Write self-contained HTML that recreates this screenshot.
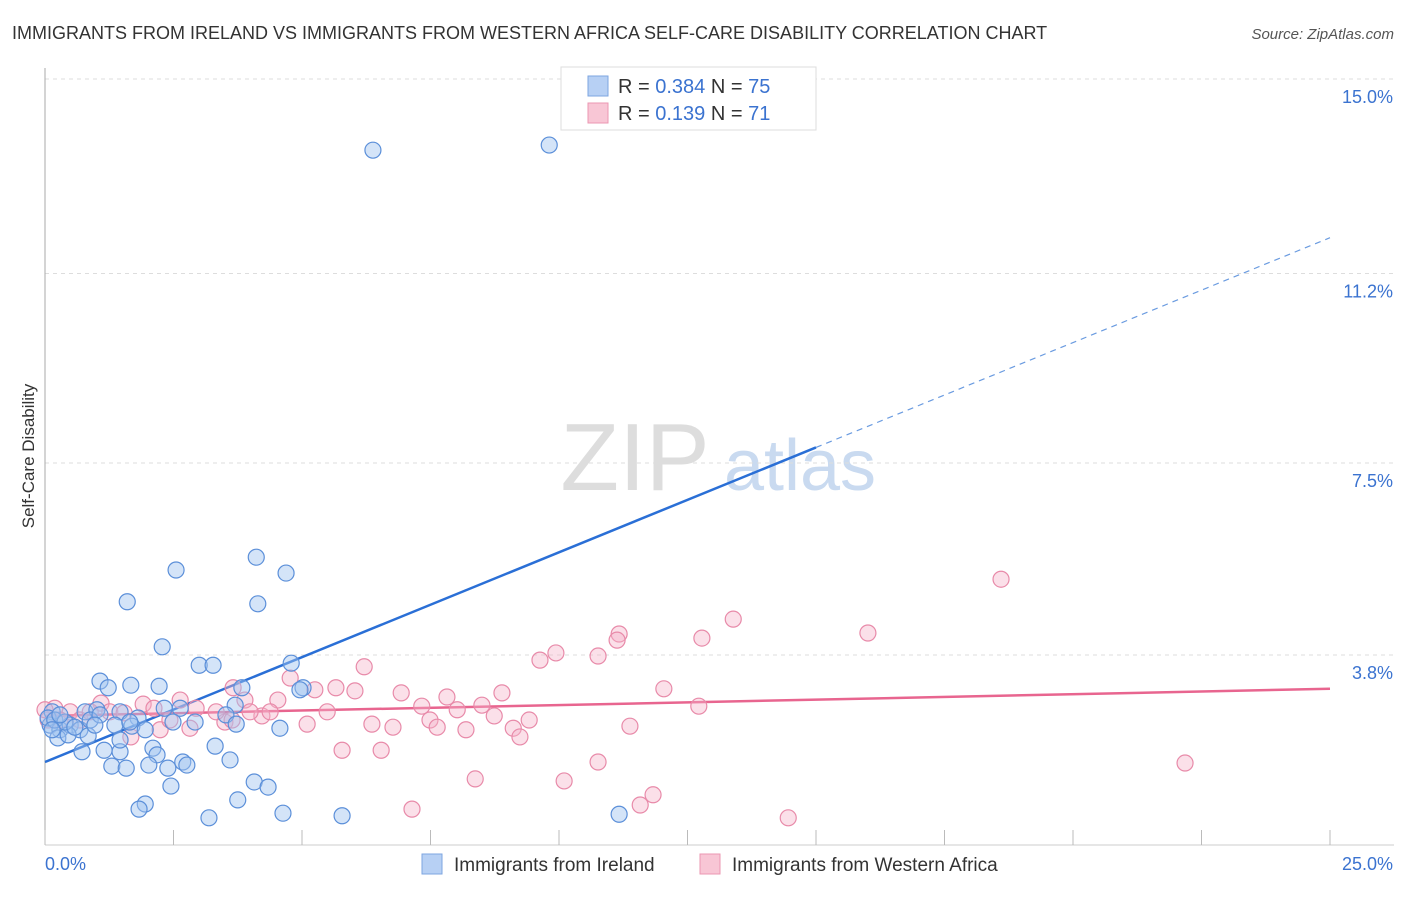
<!DOCTYPE html>
<html><head><meta charset="utf-8"><style>
body{margin:0;background:#fff;font-family:"Liberation Sans",sans-serif}
svg text{font-family:"Liberation Sans",sans-serif}
</style></head><body>
<svg id="chart" width="1406" height="892">
<text x="12" y="39" font-size="18" fill="#333">IMMIGRANTS FROM IRELAND VS IMMIGRANTS FROM WESTERN AFRICA SELF-CARE DISABILITY CORRELATION CHART</text>
<text x="1394" y="39" font-size="15" fill="#555" font-style="italic" text-anchor="end">Source: ZipAtlas.com</text>
<text transform="translate(34,456) rotate(-90)" font-size="17" fill="#333" text-anchor="middle">Self-Care Disability</text>
<g>
<text x="635" y="490" font-size="96" font-family="Liberation Serif" fill="#ddd" text-anchor="middle">ZIP</text>
<text x="800" y="490" font-size="72" fill="#c9daf0" text-anchor="middle">atlas</text>
</g>
<g id="grid"></g><g id="axes"></g><g id="lines"></g><g id="pts"></g>
<g>
<rect x="561" y="67" width="255" height="63" fill="#fff" stroke="#ddd"/>
<rect x="588" y="76" width="20" height="20" fill="#b7d0f4" stroke="#7ea6e0"/>
<rect x="588" y="103" width="20" height="20" fill="#f8c6d5" stroke="#eb97b2"/>
<text x="618" y="93" font-size="20" fill="#333">R = <tspan fill="#3b73d0">0.384</tspan>   N = <tspan fill="#3b73d0">75</tspan></text>
<text x="618" y="120" font-size="20" fill="#333">R =  <tspan fill="#3b73d0">0.139</tspan>   N =  <tspan fill="#3b73d0">71</tspan></text>
</g>
<g>
<rect x="422" y="854" width="20" height="20" fill="#b7d0f4" stroke="#7ea6e0"/>
<text x="454" y="871" font-size="19" fill="#333">Immigrants from Ireland</text>
<rect x="700" y="854" width="20" height="20" fill="#f8c6d5" stroke="#eb97b2"/>
<text x="732" y="871" font-size="19" fill="#333">Immigrants from Western Africa</text>
</g>
</svg>
<script>
const blueX=[6.38,9.81,2.55,4.11,4.69,1.60,4.14,2.28,3.00,3.27,4.79,1.07,1.23,1.67,2.22,3.83,5.02,0.14,0.78,1.01,1.46,1.81,2.63,3.70,3.52,2.32,0.10,0.29,0.49,0.68,0.88,1.36,1.69,1.95,2.49,3.72,4.57,0.25,0.45,0.84,1.15,1.46,2.10,2.18,3.31,0.72,1.30,1.58,2.02,2.39,2.68,2.76,3.60,4.07,4.34,2.45,3.75,1.95,1.83,4.63,3.19,5.78,11.17,0.06,0.19,0.39,0.58,1.07,1.65,1.46,0.97,0.29,0.14,2.92,4.96];
const blueY=[13.61,13.71,5.41,5.66,5.35,4.79,4.75,3.91,3.55,3.55,3.59,3.24,3.11,3.16,3.14,3.11,3.11,2.64,2.64,2.68,2.64,2.52,2.71,2.77,2.58,2.71,2.38,2.29,2.38,2.29,2.48,2.38,2.36,2.29,2.44,2.40,2.32,2.13,2.19,2.17,1.89,1.86,1.93,1.80,1.97,1.86,1.58,1.54,1.60,1.54,1.66,1.60,1.70,1.27,1.17,1.19,0.92,0.84,0.74,0.66,0.57,0.61,0.64,2.52,2.48,2.44,2.34,2.58,2.44,2.09,2.38,2.58,2.29,2.44,3.07];
const pinkX=[18.60,13.39,11.17,11.13,16.01,12.78,9.94,9.63,10.76,6.21,4.77,12.04,5.66,6.03,6.93,7.82,8.89,5.25,3.66,4.53,3.89,2.63,2.94,8.02,7.33,8.50,12.72,5.49,4.22,3.99,1.91,2.12,1.09,1.26,6.36,6.77,7.49,7.63,8.19,8.74,9.42,9.11,9.24,11.38,5.10,3.50,2.82,2.24,1.67,0.49,0.68,0.19,0.06,0.29,5.78,6.54,3.33,3.64,1.54,10.76,22.18,8.37,10.10,11.83,11.58,7.14,14.46,0.88,2.43,4.38,0];
const pinkY=[5.23,4.45,4.16,4.04,4.18,4.08,3.79,3.65,3.73,3.52,3.30,3.09,3.11,3.05,3.01,2.93,3.01,3.07,3.11,2.87,2.87,2.87,2.71,2.68,2.75,2.77,2.75,2.64,2.56,2.64,2.79,2.71,2.81,2.64,2.40,2.34,2.48,2.34,2.29,2.56,2.48,2.32,2.15,2.36,2.40,2.44,2.32,2.29,2.15,2.64,2.48,2.71,2.48,2.48,1.89,1.89,2.64,2.48,2.62,1.66,1.64,1.33,1.29,1.02,0.82,0.74,0.57,2.64,2.48,2.64,2.68];
const blueTrend=[1.66,11.9];const blueSolidEnd=15;
const pinkTrend=[2.56,3.09];
const yTicks=[3.8,7.5,11.2,15.0];const yTickLabels=["3.8%","7.5%","11.2%","15.0%"];
const xTicks=[0,2.5,5,7.5,10,12.5,15,17.5,20,22.5,25];
const NS="http://www.w3.org/2000/svg";
const sx=v=>45+v*51.4, sy=v=>847-v*51.2;
function mk(p,t,a){const e=document.createElementNS(NS,t);for(const k in a)e.setAttribute(k,a[k]);document.getElementById(p).appendChild(e);return e;}
yTicks.forEach((t,i)=>{
 const yv=t===3.8?3.75:t;
 const g=mk('grid','line',{x1:45,x2:1394,y1:sy(yv),y2:sy(yv),stroke:'#ddd','stroke-dasharray':'4,4'});
 
 
 const tx=mk('axes','text',{x:1393,y:sy(yv)+24,'font-size':18,fill:'#3b73d0','text-anchor':'end'});
 tx.textContent=yTickLabels[i];
 
 
});
const ax=mk('axes','line',{x1:45,x2:45,y1:68,y2:845,stroke:'#aaa'});


const bx=mk('axes','line',{x1:45,x2:1394,y1:845,y2:845,stroke:'#ccc'});


xTicks.forEach(t=>{
 const l=mk('axes','line',{x1:sx(t),x2:sx(t),y1:830,y2:845,stroke:'#bbb'});
 
 
});
const x0=mk('axes','text',{x:45,y:870,'font-size':18,fill:'#3b73d0'});x0.textContent='0.0%';


const x1=mk('axes','text',{x:1393,y:870,'font-size':18,fill:'#3b73d0','text-anchor':'end'});x1.textContent='25.0%';


function drawPts(X,Y,fill,stroke,name){X.forEach((x,i)=>{
 const c=mk('pts','circle',{cx:sx(x),cy:sy(Y[i]),r:8,fill:fill,stroke:stroke,'stroke-width':1.2});
 
 
});}
drawPts(pinkX,pinkY,'rgba(246,178,200,0.4)','#e88aa9','point-western-africa');
drawPts(blueX,blueY,'rgba(160,195,240,0.45)','#5b8fd9','point-ireland');
const bAt=x=>blueTrend[0]+(blueTrend[1]-blueTrend[0])*x/25;
const bl=mk('lines','line',{x1:sx(0),y1:sy(bAt(0)),x2:sx(blueSolidEnd),y2:sy(bAt(blueSolidEnd)),stroke:'#2a6fd6','stroke-width':2.5});


const bd=mk('lines','line',{x1:sx(blueSolidEnd),y1:sy(bAt(blueSolidEnd)),x2:sx(25),y2:sy(bAt(25)),stroke:'#6a9be0','stroke-width':1.2,'stroke-dasharray':'6,5'});


const pl=mk('lines','line',{x1:sx(0),y1:sy(pinkTrend[0]),x2:sx(25),y2:sy(pinkTrend[1]),stroke:'#e8658f','stroke-width':2.5});


</script>
</body></html>
